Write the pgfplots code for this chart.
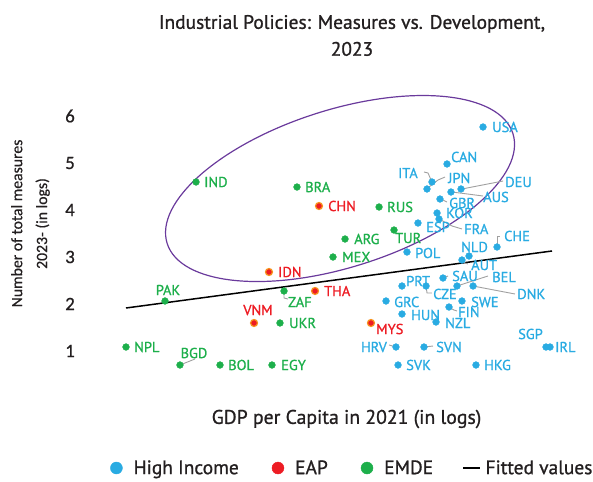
\documentclass[border=0pt]{standalone}
\usepackage{pgfplots}
\pgfplotsset{compat=1.18}
\usepackage{fontspec}
\setmainfont{PT Sans}[FakeBold=1.0]
\newfontfamily\carlito{Carlito}[FakeBold=0.6]
\definecolor{hiblue}{HTML}{29ABE2}
\definecolor{eapred}{HTML}{ED1C24}
\definecolor{emdegreen}{HTML}{1DAF4B}
\definecolor{eaporange}{HTML}{F7941D}
\definecolor{ellpurple}{HTML}{6A3A9C}
\definecolor{leadgray}{HTML}{A0A0A0}
\definecolor{txt}{HTML}{231F20}

\pgfplotstableread{
x y
10.915 5.766
10.532 4.979
10.372 4.596
10.319 4.447
10.681 4.447
10.574 4.383
10.457 4.234
10.426 3.936
10.447 3.809
10.223 3.723
11.064 3.213
10.766 3.021
10.691 2.936
10.106 3.106
10.489 2.553
10.053 2.383
10.309 2.383
10.638 2.383
10.809 2.383
9.883 2.064
10.691 2.064
10.553 1.936
10.053 1.787
10.415 1.617
11.585 1.085
11.628 1.085
9.989 1.085
10.287 1.085
10.011 0.702
10.840 0.702
}\highinc

\pgfplotstableread{
x y
9.170 4.085
8.638 2.681
9.128 2.277
8.479 1.596
9.723 1.596
}\eap

\pgfplotstableread{
x y
7.862 4.596
8.936 4.489
9.809 4.064
9.968 3.574
9.447 3.383
9.319 3.000
8.798 2.277
7.532 2.064
8.755 1.596
7.117 1.085
7.691 0.702
8.117 0.702
8.670 0.702
}\emde

\newcommand{\lbl}[5]{\node[anchor=#1, text=#2, inner sep=0pt, font=\fontsize{14.5}{14.5}\selectfont] at (axis cs:#3,#4) {#5};}

\begin{document}
\begin{tikzpicture}[x=1bp,y=1bp]
\path[use as bounding box] (0,0) rectangle (593,-482);
\node[font=\fontsize{19.5}{27}\selectfont, text=txt, align=center] at (352,-35.5) {Industrial Policies: Measures vs. Development,\\2023};
\node[rotate=90, align=center, text=txt, font=\carlito\fontsize{15.8}{25}\selectfont] at (30.5,-223.5) {Number of total measures\\2023- (in logs)};
\node[text=txt, font=\fontsize{19.8}{19.8}\selectfont] at (346.5,-419) {GDP per Capita in 2021 (in logs)};
\begin{axis}[
  at={(100bp,-379.2bp)}, anchor=south west,
  x=94bp, y=47bp,
  xmin=6.8404, xmax=11.8404,
  ymin=0.4, ymax=6.55,
  axis line style={draw=none},
  major tick length=0pt,
  xtick=\empty,
  ytick={1,2,3,4,5,6},
  yticklabel style={anchor=east, inner sep=0pt, xshift=-25bp, text=txt, font=\carlito\fontsize{19}{19}\selectfont},
  /pgf/number format/assume math mode=true,
  clip=false,
  legend columns=4,
  legend style={draw=none, fill=none, inner sep=0pt, at={(0.0213,-0.3072)}, anchor=west,
    font=\fontsize{19.5}{19.5}\selectfont, text=txt,
    nodes={inner sep=0pt},
    /tikz/every odd column/.append style={column sep=11bp},
    /tikz/every even column/.append style={column sep=33bp}},
]
% fitted line
\addplot[black, line width=1.5bp, forget plot] coordinates {(7.117,1.915) (11.649,3.128)};
% ellipse
\draw[ellpurple, line width=1.2bp, rotate around={17.65:(axis cs:9.394,4.457)}] (axis cs:9.394,4.457) ellipse [x radius=181.4bp, y radius=78.7bp];
% leader lines
\begin{scope}[leadgray, line width=0.9bp]
\draw (axis cs:10.287,4.809) -- (axis cs:10.330,4.787) -- (axis cs:10.362,4.638);
\draw (axis cs:10.511,4.702) -- (axis cs:10.436,4.638) -- (axis cs:10.340,4.489);
\draw (axis cs:10.691,4.447) -- (axis cs:11.128,4.617);
\draw (axis cs:10.585,4.383) -- (axis cs:10.915,4.298);
\draw (axis cs:10.468,4.234) -- (axis cs:10.532,4.170);
\draw (axis cs:10.447,3.809) -- (axis cs:10.585,3.660) -- (axis cs:10.691,3.596);
\draw (axis cs:11.064,3.234) -- (axis cs:11.064,3.447) -- (axis cs:11.096,3.447);
\draw (axis cs:10.691,2.936) -- (axis cs:10.723,2.872) -- (axis cs:10.755,2.851);
\draw (axis cs:10.309,2.383) -- (axis cs:10.319,2.234) -- (axis cs:10.372,2.234);
\draw (axis cs:10.489,2.553) -- (axis cs:10.543,2.596);
\draw (axis cs:10.638,2.383) -- (axis cs:10.968,2.596);
\draw (axis cs:10.809,2.383) -- (axis cs:11.255,2.213);
\draw (axis cs:10.553,1.936) -- (axis cs:10.606,1.872) -- (axis cs:10.638,1.851);
\draw (axis cs:9.915,1.128) -- (axis cs:9.989,1.085);
\draw (axis cs:10.287,1.085) -- (axis cs:10.383,1.106);
\draw (axis cs:8.798,2.277) -- (axis cs:8.798,2.128) -- (axis cs:8.840,2.106);
\draw (axis cs:7.691,0.702) -- (axis cs:7.851,0.830);
\end{scope}
% data
\addplot[only marks, mark=*, mark size=3.4bp, mark options={draw=hiblue, fill=hiblue},
  legend image code/.code={\fill[hiblue] (0bp,0bp) circle (6bp);}] table {\highinc};
\addlegendentry{High Income}
\addplot[only marks, mark=*, mark size=3.5bp, mark options={draw=eaporange, fill=eapred, line width=1.2bp},
  legend image code/.code={\fill[eapred] (0bp,0bp) circle (6bp);}] table {\eap};
\addlegendentry{EAP}
\addplot[only marks, mark=*, mark size=3.4bp, mark options={draw=emdegreen, fill=emdegreen},
  legend image code/.code={\fill[emdegreen] (0bp,0bp) circle (6bp);}] table {\emde};
\addlegendentry{EMDE}
\addlegendimage{legend image code/.code={\draw[overlay, black, line width=2.6bp] (-3bp,0bp) -- (14bp,0bp); \path (0bp,0bp) -- (8bp,0bp);}}
\addlegendentry{Fitted values}
% labels: high income
\lbl{west}{hiblue}{11.011}{5.766}{USA}
\lbl{west}{hiblue}{10.574}{5.128}{CAN}
\lbl{east}{hiblue}{10.223}{4.787}{ITA}
\lbl{west}{hiblue}{10.543}{4.681}{JPN}
\lbl{west}{hiblue}{11.149}{4.596}{DEU}
\lbl{west}{hiblue}{10.915}{4.277}{AUS}
\lbl{west}{hiblue}{10.553}{4.149}{GBR}
\lbl{west}{hiblue}{10.521}{3.936}{KOR}
\lbl{west}{hiblue}{10.713}{3.596}{FRA}
\lbl{west}{hiblue}{10.309}{3.638}{ESP}
\lbl{west}{hiblue}{11.138}{3.447}{CHE}
\lbl{west}{hiblue}{10.681}{3.213}{NLD}
\lbl{west}{hiblue}{10.787}{2.830}{AUT}
\lbl{west}{hiblue}{10.191}{3.085}{POL}
\lbl{west}{hiblue}{10.585}{2.596}{SAU}
\lbl{west}{hiblue}{10.096}{2.489}{PRT}
\lbl{west}{hiblue}{10.383}{2.213}{CZE}
\lbl{west}{hiblue}{11.011}{2.574}{BEL}
\lbl{west}{hiblue}{11.277}{2.213}{DNK}
\lbl{west}{hiblue}{9.968}{2.043}{GRC}
\lbl{west}{hiblue}{10.787}{2.043}{SWE}
\lbl{west}{hiblue}{10.649}{1.830}{FIN}
\lbl{west}{hiblue}{10.149}{1.766}{HUN}
\lbl{west}{hiblue}{10.511}{1.596}{NZL}
\lbl{west}{hiblue}{11.287}{1.362}{SGP}
\lbl{west}{hiblue}{11.681}{1.085}{IRL}
\lbl{east}{hiblue}{9.894}{1.085}{HRV}
\lbl{west}{hiblue}{10.415}{1.085}{SVN}
\lbl{west}{hiblue}{10.096}{0.702}{SVK}
\lbl{west}{hiblue}{10.926}{0.702}{HKG}
% labels: EAP
\lbl{west}{eapred}{9.266}{4.085}{CHN}
\lbl{west}{eapred}{8.734}{2.681}{IDN}
\lbl{west}{eapred}{9.223}{2.277}{THA}
\lbl{center}{eapred}{8.521}{1.872}{VNM}
\lbl{west}{eapred}{9.777}{1.468}{MYS}
% labels: EMDE
\lbl{west}{emdegreen}{7.947}{4.596}{IND}
\lbl{west}{emdegreen}{9.021}{4.489}{BRA}
\lbl{west}{emdegreen}{9.894}{4.064}{RUS}
\lbl{west}{emdegreen}{9.979}{3.404}{TUR}
\lbl{west}{emdegreen}{9.543}{3.383}{ARG}
\lbl{west}{emdegreen}{9.415}{3.000}{MEX}
\lbl{west}{emdegreen}{8.840}{2.043}{ZAF}
\lbl{center}{emdegreen}{7.564}{2.298}{PAK}
\lbl{west}{emdegreen}{8.851}{1.596}{UKR}
\lbl{west}{emdegreen}{7.202}{1.085}{NPL}
\lbl{center}{emdegreen}{7.840}{0.957}{BGD}
\lbl{west}{emdegreen}{8.202}{0.702}{BOL}
\lbl{west}{emdegreen}{8.766}{0.702}{EGY}
\end{axis}
\end{tikzpicture}
\end{document}
